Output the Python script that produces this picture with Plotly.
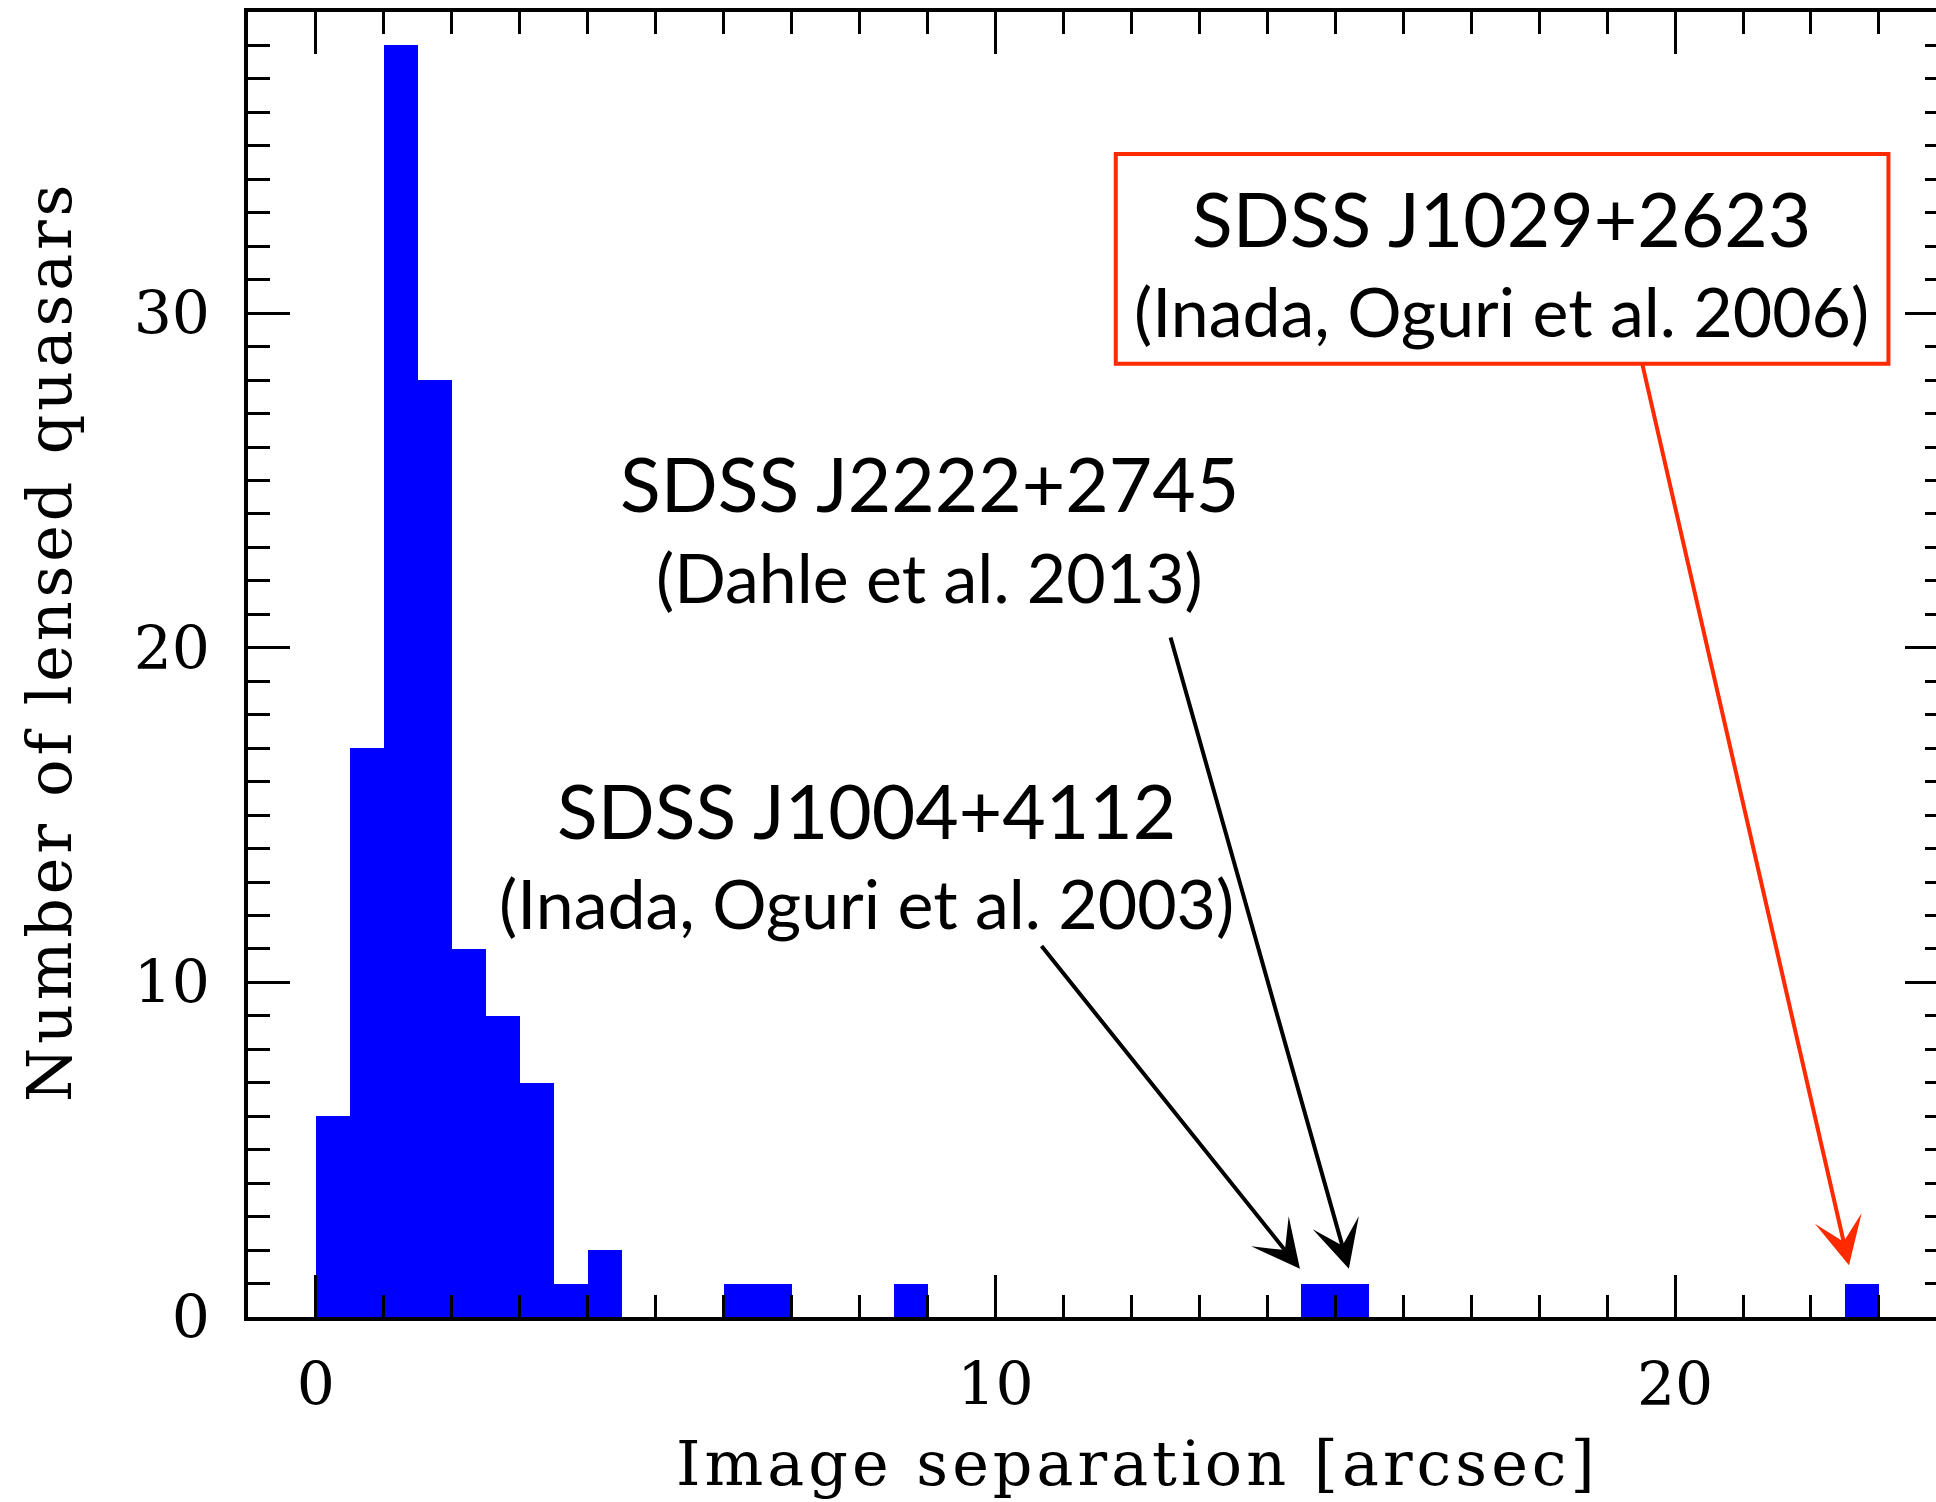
import plotly.graph_objects as go

# Histogram of image separations (0.5 arcsec bins), non-empty bins only
bin_lo = [0.0, 0.5, 1.0, 1.5, 2.0, 2.5, 3.0, 3.5, 4.0, 6.0, 6.5, 8.5, 14.5, 15.0, 22.5]
counts = [6, 17, 38, 28, 11, 9, 7, 1, 2, 1, 1, 1, 1, 1, 1]
bin_width = 0.5

x_ticks = [0, 10, 20]
y_ticks = [0, 10, 20, 30]

# Labelled systems: name, reference, text centre (x, y of the two lines), arrow tail and tip
systems = [
    dict(name="SDSS J1029+2623", ref="(Inada, Oguri et al. 2006)",
         tx=17.44, ty1=32.84, ty2=30.08, tail=(19.51, 28.55), tip=(22.56, 1.55),
         color="#ff2a00"),
    dict(name="SDSS J2222+2745", ref="(Dahle et al. 2013)",
         tx=9.03, ty1=24.92, ty2=22.12, tail=(12.57, 20.35), tip=(15.2, 1.44),
         color="black"),
    dict(name="SDSS J1004+4112", ref="(Inada, Oguri et al. 2003)",
         tx=8.10, ty1=15.15, ty2=12.38, tail=(10.66, 11.13), tip=(14.48, 1.44),
         color="black"),
]

centers = [b + bin_width / 2 for b in bin_lo]

fig = go.Figure()
fig.add_trace(go.Bar(
    x=centers, y=counts, width=bin_width,
    marker=dict(color="#0000ff", line=dict(width=0)),
    showlegend=False, hoverinfo="skip",
))
# empty trace to carry the right-hand tick axis
fig.add_trace(go.Scatter(x=[], y=[], yaxis="y2", showlegend=False, hoverinfo="skip"))

tick_font = dict(family="DejaVu Serif", size=60, color="black")
title_font = dict(family="DejaVu Serif", size=62, color="black")
label_font = "Lato"


def spaced(text, px):
    return '<span style="letter-spacing:%gpx">%s</span>' % (px, text)


annotations = []
shapes = []
for s in systems:
    annotations.append(dict(
        x=s["tx"], y=s["ty1"], xref="x", yref="y", text=s["name"], showarrow=False,
        xanchor="center", yanchor="middle", font=dict(family=label_font, size=75, color="black"),
    ))
    annotations.append(dict(
        x=s["tx"], y=s["ty2"], xref="x", yref="y", text=s["ref"], showarrow=False,
        xanchor="center", yanchor="middle", font=dict(family=label_font, size=68, color="black"),
    ))
    annotations.append(dict(
        x=s["tip"][0], y=s["tip"][1], xref="x", yref="y",
        ax=s["tail"][0], ay=s["tail"][1], axref="x", ayref="y",
        text="", showarrow=True, arrowhead=3, arrowsize=2.0, arrowwidth=4,
        arrowcolor=s["color"], standoff=0, startstandoff=0,
    ))

# red frame around the SDSS J1029+2623 label
shapes.append(dict(
    type="rect", xref="x", yref="y", x0=11.77, x1=23.14, y0=28.49, y1=34.76,
    line=dict(color="#ff2a00", width=4), fillcolor="rgba(0,0,0,0)", layer="above",
))

# axis titles
annotations.append(dict(
    x=(1137 - 248) / 1688, y=(1502 - 1463 - 185) / 1305, xref="paper", yref="paper",
    text=spaced("Image separation [arcsec]", 4), showarrow=False,
    xanchor="center", yanchor="middle", font=title_font,
))
annotations.append(dict(
    x=(49 - 248) / 1688, y=(1317 - 642) / 1305, xref="paper", yref="paper",
    text=spaced("Number of lensed quasars", 3.8), showarrow=False,
    xanchor="center", yanchor="middle", textangle=-90, font=title_font,
))

fig.update_layout(
    width=1936, height=1502,
    margin=dict(l=248, r=0, t=12, b=185),
    paper_bgcolor="white", plot_bgcolor="white",
    bargap=0,
    annotations=annotations,
    shapes=shapes,
    xaxis=dict(
        range=[-1, 23.84], showgrid=False, zeroline=False,
        showline=True, linecolor="black", linewidth=4, mirror="ticks",
        ticks="inside", ticklen=42, tickwidth=3, tickcolor="black",
        tickvals=x_ticks, ticktext=[str(v) for v in x_ticks],
        tickfont=tick_font, ticklabelstandoff=12,
        minor=dict(dtick=1, tick0=0, ticks="inside", ticklen=22, tickwidth=3,
                   tickcolor="black", showgrid=False),
    ),
    yaxis=dict(
        range=[0, 39], showgrid=False, zeroline=False,
        showline=True, linecolor="black", linewidth=4, mirror=False,
        ticks="inside", ticklen=42, tickwidth=3, tickcolor="black",
        tickvals=y_ticks, ticktext=[str(v) for v in y_ticks],
        tickfont=tick_font, ticklabelstandoff=22,
        minor=dict(dtick=1, tick0=0, ticks="inside", ticklen=22, tickwidth=3,
                   tickcolor="black", showgrid=False),
    ),
    yaxis2=dict(
        overlaying="y", side="right", range=[0, 39], matches="y",
        showgrid=False, zeroline=False, showline=False,
        ticks="inside", ticklen=31, tickwidth=3, tickcolor="black",
        tickvals=y_ticks, showticklabels=False,
        minor=dict(dtick=1, tick0=0, ticks="inside", ticklen=11, tickwidth=3,
                   tickcolor="black", showgrid=False),
    ),
)

fig.write_html("out.html")
